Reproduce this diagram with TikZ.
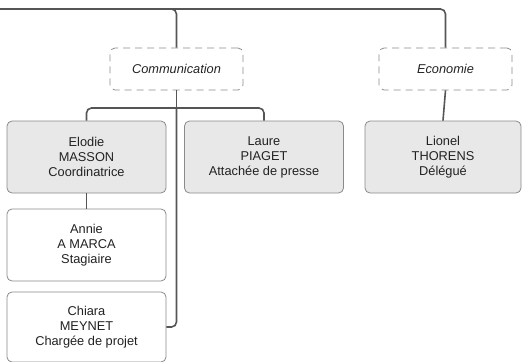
\documentclass[tikz,border=0pt]{standalone}
\usepackage{fontspec}
\setmainfont{Liberation Sans}
\definecolor{linec}{HTML}{555555}
\definecolor{boxd}{HTML}{8A8A8A}
\definecolor{boxf}{HTML}{E8E8E8}
\definecolor{txt}{HTML}{222222}
\begin{document}
\begin{tikzpicture}[x=1pt,y=-1pt,
  person/.style={draw=boxd, line width=0.8pt, rounded corners=5pt, minimum width=159pt, minimum height=72pt, align=center, text=txt, font=\fontsize{12.8}{15}\selectfont, inner sep=0pt},
  grey/.style={person, fill=boxf},
  white/.style={person, fill=white},
  group/.style={draw=boxd, line width=0.8pt, dash pattern=on 7pt off 5pt, rounded corners=5pt, minimum width=133pt, minimum height=42pt, font=\fontsize{12.8}{14}\selectfont\itshape, text=txt, inner sep=0pt},
  conn/.style={draw=linec, line width=1.6pt, rounded corners=5pt}]
\useasboundingbox (0,0) rectangle (523,362);
\node[group] (comm) at (176.5,69) {Communication};
\node[group] (econ) at (445.5,69) {Economie};
\node[grey] (elodie) at (86.5,157) {Elodie\\MASSON\\Coordinatrice};
\node[grey] (laure) at (264,157) {Laure\\PIAGET\\Attachée de presse};
\node[grey, minimum width=156pt] (lionel) at (443,157) {Lionel\\THORENS\\Délégué};
\node[white] (annie) at (86.5,245) {Annie\\A MARCA\\Stagiaire};
\node[white, minimum height=70pt] (chiara) at (86.5,327) {Chiara\\MEYNET\\Chargée de projet};
\coordinate (start) at (0,9);
\coordinate (split) at (176.5,108);
\draw[conn] (start) -| (econ.north);
\draw[conn] (comm.north) |- (start);
\draw[conn] (comm.south) -- (split);
\draw[conn] (split) -| (elodie.north);
\draw[conn] (split) -| (laure.north);
\draw[conn] (split) |- (chiara.east);
\draw[conn] (elodie.south) -- (annie.north);
\draw[conn] (econ.south) -- (lionel.north);
\end{tikzpicture}
\end{document}
